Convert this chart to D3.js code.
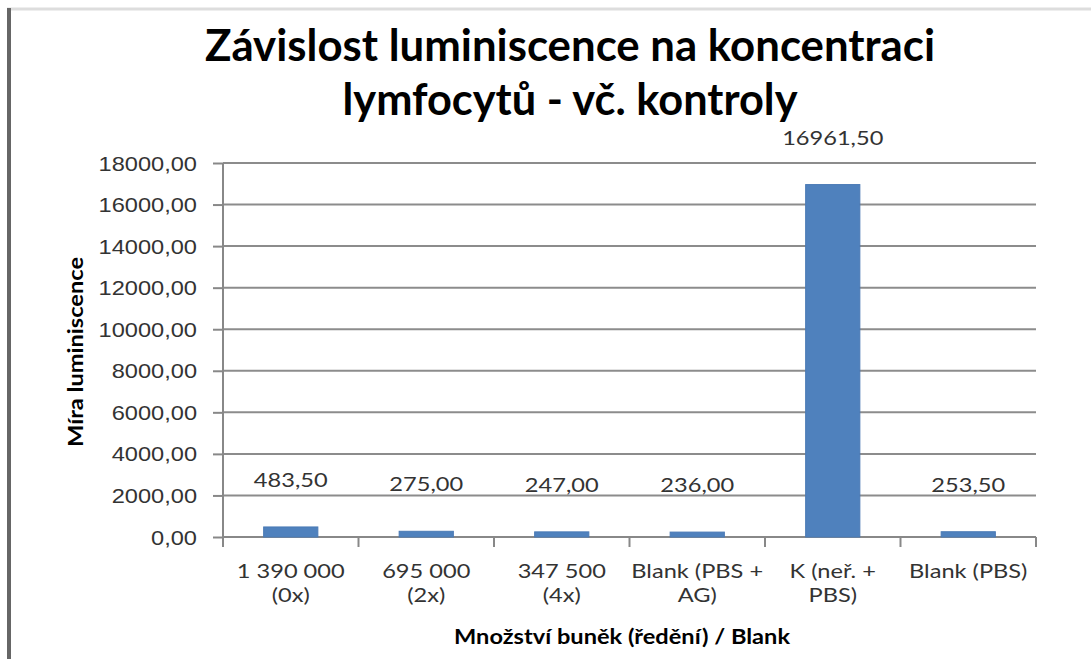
<!DOCTYPE html>
<html>
<head>
<meta charset="utf-8">
<script src="https://d3js.org/d3.v7.min.js"></script>
<style>
body { margin: 0; background: #fff; font-family: Lato, "Open Sans", sans-serif; }
.axis path, .axis line { stroke: #888; stroke-width: 2; }
.axis text { fill: #333; font-size: 20px; }
.grid line { stroke: #8c8c8c; stroke-width: 2; }
.label { fill: #333; font-size: 20px; }
.title { font-weight: 700; fill: #000; }
</style>
</head>
<body>
<div id="chart"></div>
<script>
// data
var categories = [["1 390 000", "(0x)"], ["695 000", "(2x)"], ["347 500", "(4x)"], ["Blank (PBS +", "AG)"], ["K (neř. +", "PBS)"], ["Blank (PBS)"]];
var values = [483.5, 275.0, 247.0, 236.0, 16961.5, 253.5];
var yTicks = [0, 2000, 4000, 6000, 8000, 10000, 12000, 14000, 16000, 18000];
var titleLines = ["Závislost luminiscence na koncentraci", "lymfocytů - vč. kontroly"];

var width = 1091, height = 659;
var margin = {left: 223, right: 55, top: 163, bottom: 122};
var widen = 1.18; // original text is drawn wider than it is tall

var svg = d3.select("#chart").append("svg")
  .attr("width", width)
  .attr("height", height);

// stretch text horizontally to match the wider look of the original
function stretch(sel) {
  sel.each(function() {
    var w = this.getComputedTextLength();
    d3.select(this).attr("textLength", w * widen).attr("lengthAdjust", "spacingAndGlyphs");
  });
}

// frame
svg.append("line").attr("x1", 7).attr("x2", width).attr("y1", 9).attr("y2", 9)
  .attr("stroke", "#ddd").attr("stroke-width", 3);
svg.append("line").attr("x1", 9).attr("x2", 9).attr("y1", 8).attr("y2", height)
  .attr("stroke", "#666").attr("stroke-width", 4);

var idx = d3.range(values.length);
var x = d3.scaleBand()
  .domain(idx)
  .range([margin.left, width - margin.right])
  .paddingInner(0.6)
  .paddingOuter(0.3);
var xb = d3.scaleBand().domain(idx).range([margin.left, width - margin.right]);

var y = d3.scaleLinear()
  .domain([0, 18000])
  .range([height - margin.bottom, margin.top]);

// gridlines
svg.append("g").attr("class", "grid")
  .selectAll("line").data(yTicks.slice(1)).enter()
  .append("line")
  .attr("x1", margin.left).attr("x2", width - margin.right)
  .attr("y1", d => y(d)).attr("y2", d => y(d));

// y axis
var yAxis = d3.axisLeft(y).tickValues(yTicks).tickSize(10).tickPadding(16)
  .tickFormat(d => d3.format(".2f")(d).replace(".", ","));
var gy = svg.append("g").attr("class", "axis")
  .attr("transform", `translate(${margin.left},0)`)
  .call(yAxis);
gy.select(".domain").attr("d", `M0,${y(0)}V${y(18000)}`);
gy.selectAll("text").attr("dy", "0.35em").call(stretch);

// x axis
var gx = svg.append("g").attr("class", "axis")
  .attr("transform", `translate(0,${y(0)})`);
gx.append("line").attr("x1", margin.left).attr("x2", width - margin.right);
gx.selectAll(".tk").data(idx.concat([values.length])).enter()
  .append("line").attr("class", "tk")
  .attr("x1", d => d < values.length ? xb(d) : xb(d - 1) + xb.bandwidth())
  .attr("x2", d => d < values.length ? xb(d) : xb(d - 1) + xb.bandwidth())
  .attr("y1", 0).attr("y2", 10);
var catText = gx.selectAll(".cat").data(idx).enter()
  .append("text").attr("class", "cat")
  .attr("text-anchor", "middle")
  .attr("x", d => xb(d) + xb.bandwidth() / 2)
  .attr("y", 41);
catText.selectAll("tspan").data(d => categories[d]).enter()
  .append("tspan")
  .attr("x", function() { return d3.select(this.parentNode).attr("x"); })
  .attr("dy", (d, i) => i === 0 ? 0 : 24)
  .text(d => d)
  .call(stretch);

// bars
svg.append("g").selectAll("rect").data(idx).enter()
  .append("rect")
  .attr("x", d => x(d))
  .attr("width", x.bandwidth())
  .attr("y", d => y(values[d]))
  .attr("height", d => y(0) - y(values[d]))
  .attr("fill", "#4f81bd")
  .attr("stroke", "#4a7ab5");

// data labels
svg.append("g").selectAll("text").data(idx).enter()
  .append("text").attr("class", "label")
  .attr("text-anchor", "middle")
  .attr("x", d => x(d) + x.bandwidth() / 2)
  .attr("y", d => y(values[d]) - 40)
  .text(d => d3.format(".2f")(values[d]).replace(".", ","))
  .call(stretch);

// title
svg.selectAll(".title").data(titleLines).enter()
  .append("text").attr("class", "title")
  .attr("text-anchor", "middle")
  .attr("x", 570)
  .attr("y", (d, i) => 61 + i * 54)
  .attr("font-size", 43)
  .attr("textLength", (d, i) => i === 0 ? 730 : 455)
  .attr("lengthAdjust", "spacingAndGlyphs")
  .text(d => d);

// axis titles
svg.append("text")
  .attr("transform", `translate(83,${(y(0) + y(18000)) / 2 + 2}) rotate(-90)`)
  .attr("text-anchor", "middle")
  .attr("font-size", 20).attr("font-weight", 700)
  .text("Míra luminiscence")
  .call(stretch);
svg.append("text")
  .attr("x", 622)
  .attr("y", 644)
  .attr("text-anchor", "middle")
  .attr("font-size", 20).attr("font-weight", 700)
  .text("Množství buněk (ředění) / Blank")
  .call(stretch);
</script>
</body>
</html>
